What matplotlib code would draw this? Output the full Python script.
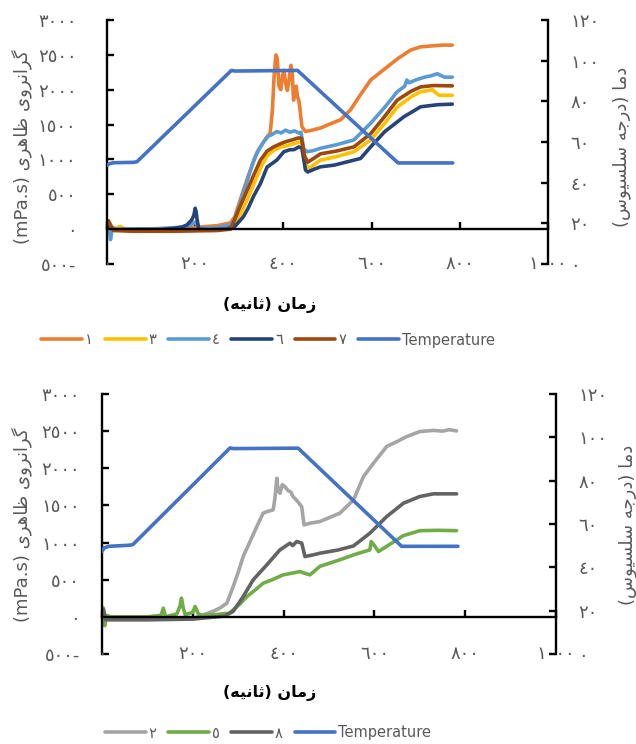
import matplotlib
matplotlib.use("Agg")
import matplotlib.pyplot as plt

plt.rcParams['font.family'] = ['DejaVu Sans']

# ---------------- data ----------------
x_ticks = [0, 200, 400, 600, 800, 1000]
x_tick_labels = ["\u0660", "\u0662\u0660\u0660", "\u0664\u0660\u0660", "\u0666\u0660\u0660", "\u0668\u0660\u0660", "\u0661\u0660\u0660\u0660"]
y_ticks = [-500, 0, 500, 1000, 1500, 2000, 2500, 3000]
y_tick_labels = ["\u0665\u0660\u0660-", "\u0660", "\u0665\u0660\u0660", "\u0661\u0660\u0660\u0660", "\u0661\u0665\u0660\u0660",
                 "\u0662\u0660\u0660\u0660", "\u0662\u0665\u0660\u0660", "\u0663\u0660\u0660\u0660"]
t_ticks = [0, 20, 40, 60, 80, 100, 120]
t_tick_labels = ["\u0660", "\u0662\u0660", "\u0664\u0660", "\u0666\u0660", "\u0668\u0660", "\u0661\u0660\u0660", "\u0661\u0662\u0660"]

# Temperature profile (right axis, degC)
temp_t = [0, 5, 15, 60, 68, 282, 290, 432, 660, 784]
temp_v_top = [48.6, 49.3, 49.8, 50.0, 50.3, 95.2, 94.9, 95.2, 49.7, 49.7]
temp_v_bot = [47.4, 49.0, 49.7, 50.2, 50.5, 95.1, 94.8, 95.0, 49.7, 49.7]

# Top chart samples
t1 = [0, 3, 8, 15, 40, 100, 150, 200, 250, 280, 290, 300, 320, 340, 360, 370, 375, 379, 383, 386, 390, 394, 398,
      401, 405, 409, 413, 417, 420, 423, 426, 429, 432, 435, 438, 442, 450, 465, 484, 510, 530, 552, 575, 598, 620,
      636, 660, 689, 711, 740, 760, 783]
v1 = [60, 120, 40, 10, 0, 5, 15, 25, 50, 90, 180, 380, 760, 1100, 1300, 1380, 1700, 2200, 2500, 2450, 2050, 2000,
      2200, 2280, 2100, 1990, 2150, 2350, 2250, 1850, 2000, 2050, 1900, 1850, 1700, 1470, 1400, 1420, 1450, 1520,
      1570, 1710, 1930, 2140, 2250, 2330, 2450, 2570, 2615, 2630, 2640, 2640]

t3 = [0, 3, 8, 15, 30, 40, 60, 150, 250, 280, 292, 305, 320, 335, 350, 363, 378, 395, 410, 425, 438, 444, 452, 460,
      484, 520, 560, 598, 630, 658, 690, 711, 738, 745, 753, 783]
v3 = [30, 60, 20, 0, 40, 0, -20, -20, -10, 10, 100, 250, 450, 680, 900, 1050, 1130, 1180, 1200, 1230, 1250, 1200,
      900, 880, 990, 1040, 1110, 1280, 1520, 1750, 1900, 1970, 2000, 1960, 1920, 1920]

t4 = [0, 4, 8, 12, 20, 60, 120, 170, 185, 195, 200, 205, 210, 250, 280, 290, 302, 318, 333, 345, 355, 365, 375, 385,
      395, 405, 415, 425, 435, 440, 446, 454, 470, 484, 520, 560, 598, 630, 658, 675, 680, 685, 700, 720, 735, 749,
      765, 783]
v4 = [40, 80, -150, 20, 0, 0, 5, 30, 50, 80, 100, 60, 10, 20, 60, 150, 370, 700, 990, 1150, 1250, 1330, 1360, 1400,
      1380, 1420, 1390, 1410, 1380, 1390, 1150, 1110, 1130, 1160, 1210, 1280, 1520, 1750, 1970, 2050, 2140, 2100,
      2140, 2180, 2200, 2230, 2180, 2180]

t6 = [0, 3, 8, 15, 60, 120, 150, 170, 181, 192, 197, 200, 202, 204, 206, 208, 230, 270, 290, 309, 320, 333, 348, 363,
      385, 401, 415, 424, 435, 442, 450, 455, 470, 484, 515, 560, 575, 598, 630, 673, 711, 750, 783]
v6 = [40, 80, 20, -10, -20, -10, 10, 30, 60, 130, 200, 300, 250, 150, 80, 0, -10, 0, 40, 176, 300, 480, 655, 890,
      990, 1110, 1140, 1140, 1180, 1160, 850, 820, 860, 894, 918, 990, 1014, 1181, 1400, 1611, 1755, 1785, 1793]

t7 = [0, 3, 8, 15, 60, 150, 250, 280, 289, 300, 318, 333, 348, 363, 378, 395, 408, 420, 435, 441, 448, 455, 470, 484,
      520, 560, 598, 630, 658, 690, 711, 740, 783]
v7 = [80, 120, 60, -20, -30, -30, -20, 0, 130, 300, 560, 780, 990, 1120, 1180, 1230, 1260, 1280, 1310, 1300, 1050,
      960, 1020, 1080, 1120, 1180, 1370, 1620, 1850, 1980, 2040, 2060, 2055]

# Bottom chart samples
t2 = [0, 3, 8, 15, 100, 200, 245, 260, 275, 289, 300, 311, 325, 341, 355, 365, 377, 381, 385, 388, 392, 397, 403,
      410, 416, 421, 430, 440, 445, 452, 458, 480, 524, 554, 576, 598, 627, 650, 671, 700, 730, 750, 765, 781]
v2 = [50, 80, -30, -30, -30, -25, 75, 120, 184, 408, 600, 812, 1000, 1216, 1396, 1420, 1440, 1600, 1866, 1700, 1664,
      1780, 1751, 1700, 1680, 1616, 1560, 1481, 1238, 1250, 1261, 1283, 1396, 1575, 1889, 2069, 2293, 2360, 2427,
      2494, 2510, 2500, 2520, 2503]

t5 = [0, 3, 6, 10, 20, 100, 130, 135, 140, 165, 172, 175, 179, 183, 200, 205, 208, 212, 220, 250, 280, 289, 305, 319,
      337, 355, 375, 399, 420, 436, 445, 458, 480, 520, 554, 590, 593, 600, 609, 640, 664, 700, 740, 781]
v5 = [80, 120, -120, 20, 0, 0, 20, 117, 0, 40, 150, 252, 120, 30, 60, 139, 100, 40, 20, 30, 50, 94, 180, 273, 360,
      453, 500, 565, 590, 610, 590, 565, 680, 760, 834, 902, 1014, 960, 879, 1000, 1094, 1160, 1165, 1160]

t8 = [0, 3, 8, 15, 100, 200, 270, 289, 311, 333, 363, 392, 414, 420, 429, 440, 447, 465, 480, 520, 554, 590, 627,
      664, 700, 730, 781]
v8 = [60, 100, -40, -40, -40, -30, 10, 75, 273, 498, 700, 902, 992, 960, 1014, 992, 812, 834, 857, 900, 955, 1126,
      1350, 1530, 1620, 1656, 1656]

top_series = [("\u0661", t1, v1, "#ED7D31"), ("\u0663", t3, v3, "#FFC000"), ("\u0664", t4, v4, "#5B9BD5"),
              ("\u0666", t6, v6, "#264478"), ("\u0667", t7, v7, "#9E480E")]
bot_series = [("\u0662", t2, v2, "#A5A5A5"), ("\u0665", t5, v5, "#70AD47"), ("\u0668", t8, v8, "#636363")]
temp_color = "#4472C4"

# ---------------- simple Arabic/Persian shaping ----------------
FORMS = {
    '\u0627': ('\uFE8D', '\uFE8E', None, None),
    '\u062F': ('\uFEA9', '\uFEAA', None, None),
    '\u0631': ('\uFEAD', '\uFEAE', None, None),
    '\u0632': ('\uFEAF', '\uFEB0', None, None),
    '\u0648': ('\uFEED', '\uFEEE', None, None),
    '\u0645': ('\uFEE1', '\uFEE2', '\uFEE3', '\uFEE4'),
    '\u0646': ('\uFEE5', '\uFEE6', '\uFEE7', '\uFEE8'),
    '\u062C': ('\uFE9D', '\uFE9E', '\uFE9F', '\uFEA0'),
    '\u0647': ('\uFEE9', '\uFEEA', '\uFEEB', '\uFEEC'),
    '\u0633': ('\uFEB1', '\uFEB2', '\uFEB3', '\uFEB4'),
    '\u0644': ('\uFEDD', '\uFEDE', '\uFEDF', '\uFEE0'),
    '\u0638': ('\uFEC5', '\uFEC6', '\uFEC7', '\uFEC8'),
    '\u062B': ('\uFE99', '\uFE9A', '\uFE9B', '\uFE9C'),
    '\u06CC': ('\uFBFC', '\uFBFD', '\uFBFE', '\uFBFF'),
    '\u06AF': ('\uFB92', '\uFB93', '\uFB94', '\uFB95'),
}


def shape(word):
    out = []
    for i, c in enumerate(word):
        f = FORMS.get(c)
        if f is None:
            out.append(c)
            continue
        prev = FORMS.get(word[i - 1]) if i > 0 else None
        jp = prev is not None and prev[2] is not None
        nxt = FORMS.get(word[i + 1]) if i + 1 < len(word) else None
        jn = f[2] is not None and nxt is not None
        if jp and jn:
            g = f[3]
        elif jp:
            g = f[1]
        elif jn:
            g = f[2]
        else:
            g = f[0]
        out.append(g)
    return ''.join(reversed(out))


w_viscosity = '\u06AF\u0631\u0627\u0646\u0631\u0648\u06CC'
w_apparent = '\u0638\u0627\u0647\u0631\u06CC'
w_temp = '\u062F\u0645\u0627'
w_degree = '\u062F\u0631\u062C\u0647'
w_celsius = '\u0633\u0644\u0633\u06CC\u0648\u0633'
w_time = '\u0632\u0645\u0627\u0646'
w_second = '\u062B\u0627\u0646\u06CC\u0647'

ylabel_left = "(mPa.s) " + shape(w_apparent) + " " + shape(w_viscosity)
ylabel_right = "(" + shape(w_celsius) + " " + shape(w_degree) + ") " + shape(w_temp)
xlabel = "(" + shape(w_second) + ") " + shape(w_time)

GREY = "#595959"
TICK_FS = 13
LW = 2.6

fig = plt.figure(figsize=(6.36, 7.44), dpi=100)


def build(rect, series, temp_v, ylab_x, ylab_r_x, ylab_y, xlab_y, leg_y, ypad):
    ax = fig.add_axes(rect)
    ax.set_xlim(0, 1000)
    ax.set_ylim(-500, 3000)
    tw = ax.twinx()
    tw.set_ylim(0, 120)
    handles = []
    for name, t, v, c in series:
        h, = ax.plot(t, v, color=c, lw=LW, solid_capstyle='round', solid_joinstyle='round', label=name)
        handles.append(h)
    ht, = tw.plot(temp_t, temp_v, color=temp_color, lw=LW, solid_capstyle='round', label="Temperature")
    handles.append(ht)

    for a in (ax, tw):
        a.spines['top'].set_visible(False)
        for s in a.spines.values():
            s.set_linewidth(1.7)
            s.set_color('black')
    ax.spines['right'].set_visible(False)
    tw.spines['left'].set_visible(False)
    tw.spines['bottom'].set_visible(False)
    ax.spines['bottom'].set_position(('data', 0))

    ax.set_yticks(y_ticks)
    ax.set_yticklabels(y_tick_labels)
    ax.tick_params(axis='y', direction='in', length=5, width=1.7, pad=ypad, labelsize=TICK_FS, labelcolor=GREY)
    tw.set_yticks(t_ticks)
    tw.set_yticklabels(t_tick_labels)
    tw.tick_params(axis='y', direction='in', length=5, width=1.7, pad=16, labelsize=TICK_FS, labelcolor=GREY)
    ax.set_xticks(x_ticks)
    ax.tick_params(axis='x', direction='in', length=5, width=1.7, labelbottom=False)
    trans = ax.get_xaxis_transform()
    for xv, lab in zip(x_ticks, x_tick_labels):
        ax.text(xv, 0.0, lab, transform=trans, ha='center', va='center', fontsize=TICK_FS, color=GREY)

    fig.text(ylab_x, ylab_y, ylabel_left, rotation=90, ha='center', va='center', fontsize=13, color=GREY)
    fig.text(ylab_r_x, ylab_y, ylabel_right, rotation=90, ha='center', va='center', fontsize=13, color=GREY)
    fig.text(270 / 636, xlab_y, xlabel, ha='center', va='center', fontsize=11.5, fontweight='bold', color='black')
    fig.legend(handles=handles, loc='center', bbox_to_anchor=(268 / 636, leg_y), ncol=len(handles), frameon=False,
               fontsize=10.5, handlelength=2.8, handletextpad=0.2, columnspacing=0.8, labelcolor=GREY)
    return ax


build([107 / 636, (744 - 264) / 744, 441 / 636, 244 / 744], top_series, temp_v_top,
      22 / 636, 622 / 636, 1 - 147 / 744, 1 - 305 / 744, 1 - 340 / 744, 22)
build([102 / 636, (744 - 654) / 744, 454 / 636, 260 / 744], bot_series, temp_v_bot,
      22 / 636, 628 / 636, 1 - 525 / 744, 1 - 693 / 744, 1 - 733 / 744, 16)

fig.savefig("out.png", dpi=100)
